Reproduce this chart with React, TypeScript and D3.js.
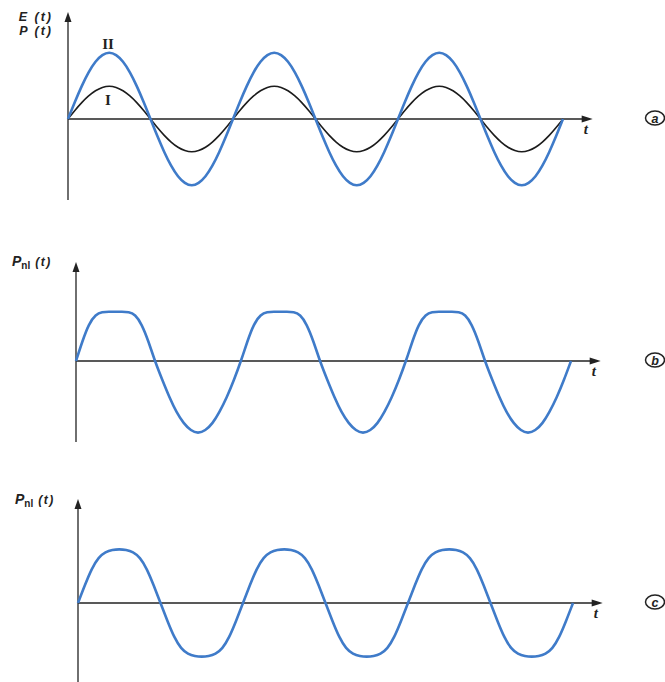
import React from 'react';
import * as d3 from 'd3';

// phase of each sample inside one cycle, in degrees
const PHASE_DEG = [0, 15, 30, 45, 60, 75, 90, 105, 120, 135, 150, 165, 180, 195, 210, 225, 240, 255, 270, 285, 300, 315, 330, 345, 360];

// (a) linear response: field E(t) (I) and polarization P(t) (II)
const FIELD_I = [0, 0.13, 0.25, 0.35, 0.43, 0.48, 0.5, 0.48, 0.43, 0.35, 0.25, 0.13, 0, -0.13, -0.25, -0.35, -0.43, -0.48, -0.5, -0.48, -0.43, -0.35, -0.25, -0.13, 0];
const POL_II = [0, 0.26, 0.5, 0.71, 0.87, 0.97, 1.01, 0.97, 0.87, 0.71, 0.5, 0.26, 0, -0.26, -0.5, -0.71, -0.87, -0.97, -1.01, -0.97, -0.87, -0.71, -0.5, -0.26, 0];

// (b) asymmetric nonlinear polarization: positive half shorter and clipped
const PHASE_B_DEG = [0, 14, 28, 43, 57, 72, 86, 100, 115, 129, 143, 158, 172, 188, 204, 219, 235, 251, 266, 282, 298, 313, 329, 345, 360];
const PNL_B = [0, 0.3, 0.56, 0.7, 0.74, 0.74, 0.74, 0.74, 0.74, 0.7, 0.56, 0.3, 0, -0.28, -0.55, -0.77, -0.94, -1.05, -1.09, -1.05, -0.94, -0.77, -0.55, -0.28, 0];

// (c) symmetric nonlinear polarization: both halves flattened
const PNL_C = [0, 0.27, 0.52, 0.69, 0.77, 0.8, 0.81, 0.8, 0.77, 0.69, 0.52, 0.27, 0, -0.27, -0.52, -0.69, -0.77, -0.8, -0.81, -0.8, -0.77, -0.69, -0.52, -0.27, 0];

const CYCLES = 3;
const BLUE = '#3f7bc9';
const INK = '#222';
const UNIT = 66.5; // px per unit of amplitude
const PERIOD = 165; // px per cycle

type Series = { phase: number[]; values: number[]; color: string; width: number };

const panels = [
  {
    key: 'a', x0: 68, base: 119, top: 12, bottom: 200,
    series: [
      { phase: PHASE_DEG, values: FIELD_I, color: '#1c1c1c', width: 1.6 },
      { phase: PHASE_DEG, values: POL_II, color: BLUE, width: 2.6 },
    ] as Series[],
  },
  {
    key: 'b', x0: 76, base: 361, top: 262, bottom: 442,
    series: [{ phase: PHASE_B_DEG, values: PNL_B, color: BLUE, width: 2.6 }] as Series[],
  },
  {
    key: 'c', x0: 78, base: 603, top: 499, bottom: 690,
    series: [{ phase: PHASE_DEG, values: PNL_C, color: BLUE, width: 2.6 }] as Series[],
  },
];

function points(s: Series) {
  const pts: [number, number][] = [];
  for (let c = 0; c < CYCLES; c++) {
    s.phase.forEach((p, i) => {
      if (c > 0 && i === 0) return;
      pts.push([c + p / 360, s.values[i]]);
    });
  }
  return pts;
}

function Panel({ p }: { p: (typeof panels)[number] }) {
  const x = d3.scaleLinear().domain([0, 1]).range([p.x0, p.x0 + PERIOD]);
  const y = d3.scaleLinear().domain([-1, 1]).range([p.base + UNIT, p.base - UNIT]);
  const xEnd = x(3.18);
  const line = d3.line<[number, number]>()
    .x(d => x(d[0]))
    .y(d => y(d[1]))
    .curve(d3.curveBasis);

  const ax = x(0);
  const ay = y(0);
  return (
    <g>
      <line x1={ax} x2={ax} y1={p.top + 8} y2={p.bottom} stroke={INK} strokeWidth={1.3} />
      <path d={`M${ax},${p.top} L${ax - 3.5},${p.top + 10} L${ax + 3.5},${p.top + 10} Z`} fill={INK} />
      <line x1={ax} x2={xEnd - 8} y1={ay} y2={ay} stroke={INK} strokeWidth={1.3} />
      <path d={`M${xEnd},${ay} L${xEnd - 11},${ay - 3.5} L${xEnd - 11},${ay + 3.5} Z`} fill={INK} />
      {p.series.map((s, i) => (
        <path key={i} d={line(points(s)) || ''} fill="none" stroke={s.color} strokeWidth={s.width} strokeLinejoin="round" />
      ))}
      <text x={xEnd - 9} y={ay + 15} fontFamily="Liberation Serif, serif" fontStyle="italic" fontWeight="bold" fontSize={15} fill={INK}>t</text>
      <ellipse cx={655} cy={ay - 1} rx={9.5} ry={7} fill="none" stroke={INK} strokeWidth={1.5} />
      <text x={655} y={ay + 3.5} textAnchor="middle" fontFamily="Liberation Sans, Arial, sans-serif" fontStyle="italic" fontWeight="bold" fontSize={12.5} fill={INK}>{p.key}</text>
    </g>
  );
}

export default function App() {
  const sans = 'Liberation Sans, Arial, sans-serif';
  return (
    <div style={{ position: 'absolute', left: 0, top: 0, background: '#fff' }}>
      <svg width={665} height={682} viewBox="0 0 665 682" style={{ display: 'block' }}>
        <rect width={665} height={682} fill="#fff" />
        {panels.map(p => <Panel key={p.key} p={p} />)}

        <text x={53} y={21} textAnchor="end" fontFamily={sans} fontStyle="italic" fontWeight="bold" fontSize={12.5} letterSpacing={2} fill={INK}>E (t)</text>
        <text x={53} y={35} textAnchor="end" fontFamily={sans} fontStyle="italic" fontWeight="bold" fontSize={12.5} letterSpacing={2} fill={INK}>P (t)</text>
        <text x={108} y={49} textAnchor="middle" fontFamily="Liberation Serif, serif" fontWeight="bold" fontSize={15} fill={INK}>II</text>
        <text x={108} y={105} textAnchor="middle" fontFamily="Liberation Serif, serif" fontWeight="bold" fontSize={15} fill={INK}>I</text>

        {[{ x: 12, y: 266 }, { x: 15, y: 504 }].map((l, i) => (
          <text key={i} x={l.x} y={l.y} fontFamily={sans} fontWeight="bold" fill={INK}>
            <tspan fontStyle="italic" fontSize={14}>P</tspan>
            <tspan fontSize={10} dy={3}>nl</tspan>
            <tspan fontStyle="italic" fontSize={12} dy={-3} dx={5} letterSpacing={1.5}>(t)</tspan>
          </text>
        ))}
      </svg>
    </div>
  );
}
